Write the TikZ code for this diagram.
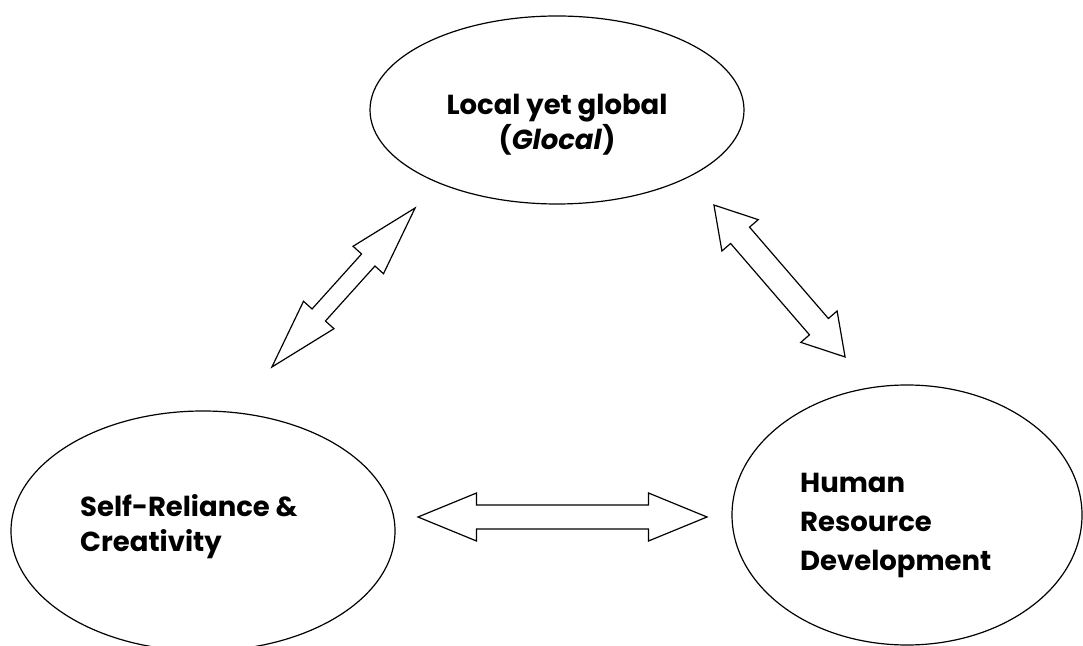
\documentclass[tikz,border=0pt]{standalone}
\usepackage{fontspec}
\setmainfont{Poppins}
\usetikzlibrary{shapes.geometric}

% Outlined block arrow with a head at both ends:
% #1 name, #2 centre, #3 angle, #4 length, #5 head length, #6 head width, #7 shaft width
\newcommand\blockarrow[7]{%
  \begin{scope}[shift={#2}, rotate=#3]
    \pgfmathsetmacro\arrHalf{#4/2}%
    \pgfmathsetmacro\arrBack{#4/2-#5}%
    \pgfmathsetmacro\arrHead{#6/2}%
    \pgfmathsetmacro\arrShaft{#7/2}%
    \coordinate (#1) at (0,0);
    \draw[arrowbody] (\arrHalf,0) -- (\arrBack,\arrHead) -- (\arrBack,\arrShaft)
      -- (-\arrBack,\arrShaft) -- (-\arrBack,\arrHead) -- (-\arrHalf,0)
      -- (-\arrBack,-\arrHead) -- (-\arrBack,-\arrShaft) -- (\arrBack,-\arrShaft)
      -- (\arrBack,-\arrHead) -- cycle;
  \end{scope}}

\tikzset{
  bubble/.style={ellipse, draw, line width=1.2pt, inner sep=0pt},
  arrowbody/.style={draw, fill=white, line width=1.2pt, line join=miter},
  caption/.style={font=\fontsize{27.5}{35}\selectfont\bfseries, inner sep=0pt}
}

\begin{document}
\begin{tikzpicture}[x=1pt, y=1pt]
  \fill[white] (0,0) rectangle (1083,645);
  \useasboundingbox (0,0) rectangle (1083,645);

  % the three ellipses
  \node[bubble, minimum width=374pt, minimum height=188pt] (glocal) at (557,535) {};
  \node[bubble, minimum width=384pt, minimum height=240pt] (self) at (203,114) {};
  \node[bubble, minimum width=350pt, minimum height=260pt] (hrd) at (907,130) {};

  % their captions
  \node[caption, align=center] (glocaltxt) at (557,520) {Local yet global\\(\textit{Glocal})};
  \node[caption, align=left, anchor=west] (selftxt) at (80,118) {Self-Reliance \&\\Creativity};
  \node[caption, align=left, anchor=west, font=\fontsize{27.5}{39}\selectfont\bfseries]
    (hrdtxt) at (800,119) {Human\\Resource\\Development};

  % two-way links between them
  \blockarrow{linkA}{(343.5,357.5)}{48}{214}{70}{41}{18}
  \blockarrow{linkB}{(779.5,364)}{130.8}{200.7}{40}{48}{25}
  \blockarrow{linkC}{(562.5,128)}{0}{289}{58.5}{48}{24}
\end{tikzpicture}
\end{document}
